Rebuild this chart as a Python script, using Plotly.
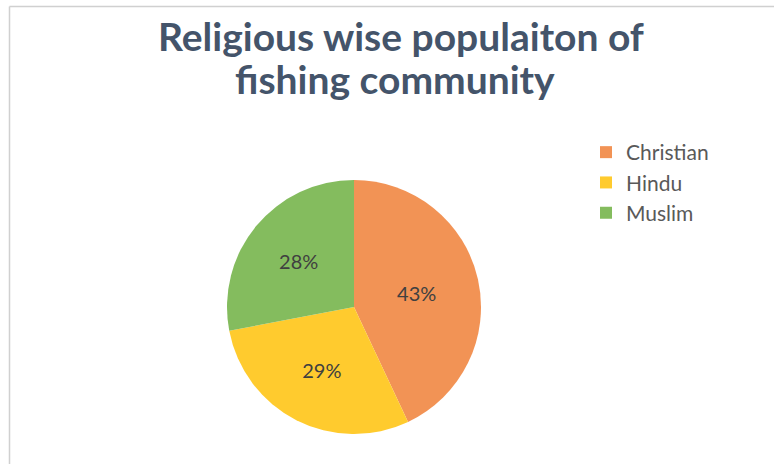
import plotly.graph_objects as go

labels = ["Christian", "Hindu", "Muslim"]
values = [43, 29, 28]
colors = ["#F29355", "#FFCB2E", "#84BC5E"]
title_lines = ["Religious wise populaiton of", "fishing community"]

W, H = 774, 464
cx, cy, r = 354, 307, 127

fig = go.Figure(go.Pie(
    labels=labels,
    values=values,
    sort=False,
    direction="clockwise",
    rotation=0,
    marker=dict(colors=colors, line=dict(width=0)),
    textinfo="percent",
    textposition="inside",
    insidetextorientation="horizontal",
    texttemplate="%{percent:.0%}",
    textfont=dict(family="Lato, Open Sans, sans-serif", size=20, color="#404040"),
    domain=dict(x=[(cx - r) / W, (cx + r) / W], y=[(H - cy - r) / H, (H - cy + r) / H]),
    hoverinfo="label+percent",
))

title_font = dict(family="Lato, Open Sans, sans-serif", size=39, color="#44546A")
annotations = [
    dict(text="<b>%s</b>" % title_lines[0], x=401 / W, y=1 - 36 / H, xref="paper", yref="paper",
         xanchor="center", yanchor="middle", showarrow=False, font=title_font),
    dict(text="<b>%s</b>" % title_lines[1], x=395 / W, y=1 - 79 / H, xref="paper", yref="paper",
         xanchor="center", yanchor="middle", showarrow=False, font=title_font),
]

fig.update_layout(
    width=W, height=H,
    margin=dict(l=0, r=0, t=0, b=0),
    paper_bgcolor="white",
    plot_bgcolor="white",
    annotations=annotations,
    legend=dict(
        x=586 / W, xanchor="left",
        y=1 - 132 / H, yanchor="top",
        font=dict(family="Lato, Open Sans, sans-serif", size=21, color="#595959"),
        bgcolor="rgba(0,0,0,0)",
        tracegroupgap=0,
    ),
    shapes=[
        dict(type="line", xref="paper", yref="paper", x0=9.5 / W, x1=1.01, y0=1 - 6.5 / H, y1=1 - 6.5 / H,
             line=dict(color="#D0D0D0", width=1.5)),
        dict(type="line", xref="paper", yref="paper", x0=9.5 / W, x1=9.5 / W, y0=-0.01, y1=1 - 6.5 / H,
             line=dict(color="#D0D0D0", width=1.5)),
    ],
)

fig.write_html("out.html", config=dict(displayModeBar=False),
               post_script="document.body.style.margin='0';document.body.style.overflow='hidden';")
